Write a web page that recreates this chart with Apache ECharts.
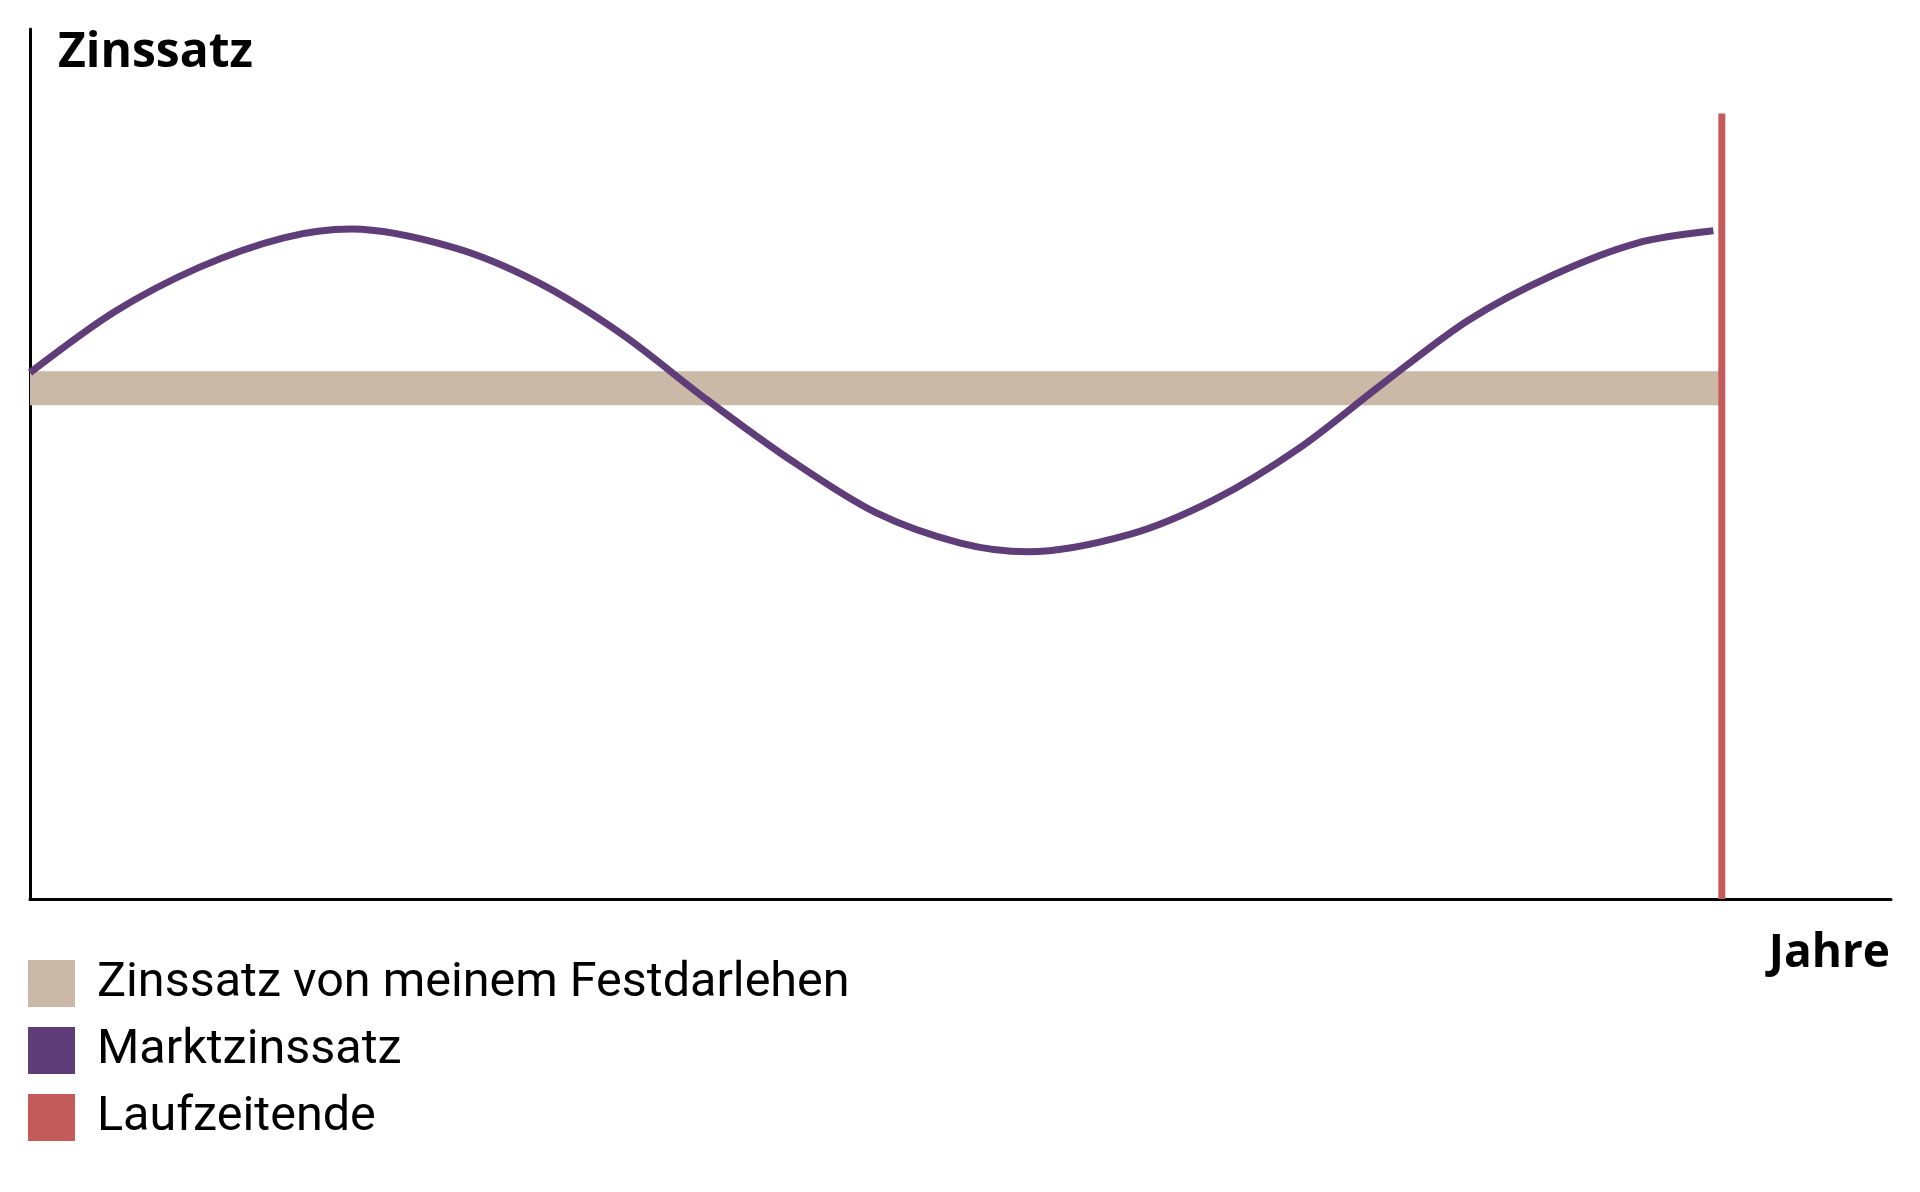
<!DOCTYPE html>
<html>
<head>
<meta charset="utf-8">
<title>Zinssatz</title>
<script src="https://cdn.jsdelivr.net/npm/echarts@6/dist/echarts.min.js"></script>
<style>
  html, body { margin: 0; padding: 0; background: #fff; }
  #chart { width: 1920px; height: 1192px; }
</style>
</head>
<body>
<div id="chart"></div>
<script>
// Legend / series names
const seriesNames = ['Zinssatz von meinem Festdarlehen', 'Marktzinssatz', 'Laufzeitende'];

// Fixed rate of the loan (flat band), x in years
const festX = [0, 10];
const festRate = 5.87;

// Market rate (about every half year, plus peak and trough)
const marktYears = [0, 0.5, 1, 1.5, 1.9, 2.5, 3, 3.5, 4, 4.5, 5, 5.5, 5.9, 6.5, 7, 7.5, 8, 8.5, 9, 9.5, 9.95];
const marktRate = [6.05, 6.75, 7.26, 7.6, 7.7, 7.49, 7.09, 6.49, 5.74, 5.04, 4.44, 4.09, 3.99, 4.19, 4.59, 5.18, 5.93, 6.65, 7.17, 7.54, 7.68];

// End of the term
const laufzeitX = 10;
const laufzeitTop = 9.03;

const colors = ['#cbb9a8', '#5e3d78', '#c45b5b'];

const chart = echarts.init(document.getElementById('chart'));

const option = {
  animation: false,
  color: colors,
  title: [
    {
      text: 'Zinssatz',
      left: 58,
      top: 29,
      padding: 0,
      textStyle: { fontFamily: 'Open Sans', fontWeight: 'bold', fontSize: 48, color: '#000' }
    },
    {
      text: 'Jahre',
      right: 30,
      top: 931,
      padding: 0,
      textStyle: { fontFamily: 'Open Sans', fontWeight: 'bold', fontSize: 46, color: '#000' }
    }
  ],
  legend: {
    orient: 'vertical',
    left: 28,
    top: 959,
    padding: 0,
    icon: 'rect',
    itemWidth: 47,
    itemHeight: 47,
    itemGap: 18,
    selectedMode: false,
    data: seriesNames,
    textStyle: {
      fontFamily: 'Roboto',
      fontSize: 48.5,
      lineHeight: 15,
      color: '#000',
      padding: [32, 0, 0, 17]
    }
  },
  grid: { left: 30, right: 29, top: 29, bottom: 293 },
  xAxis: {
    type: 'value',
    min: 0,
    max: 11,
    axisLine: { show: true, lineStyle: { color: '#000', width: 3 } },
    axisTick: { show: false },
    axisLabel: { show: false },
    splitLine: { show: false }
  },
  yAxis: {
    type: 'value',
    min: 0,
    max: 10,
    axisLine: { show: true, lineStyle: { color: '#000', width: 3 } },
    axisTick: { show: false },
    axisLabel: { show: false },
    splitLine: { show: false }
  },
  series: [
    {
      name: seriesNames[0],
      type: 'line',
      symbol: 'none',
      z: 1,
      data: festX.map(x => [x, festRate]),
      lineStyle: { width: 34, cap: 'butt', color: colors[0] }
    },
    {
      name: seriesNames[1],
      type: 'line',
      symbol: 'none',
      smooth: 0.3,
      z: 2,
      data: marktYears.map((x, i) => [x, marktRate[i]]),
      lineStyle: { width: 7, color: colors[1] }
    },
    {
      name: seriesNames[2],
      type: 'line',
      symbol: 'none',
      z: 3,
      data: [[laufzeitX, 0], [laufzeitX, laufzeitTop]],
      lineStyle: { width: 7, cap: 'butt', color: colors[2] }
    }
  ]
};

chart.setOption(option);
window.addEventListener('resize', () => chart.resize());
</script>
</body>
</html>
